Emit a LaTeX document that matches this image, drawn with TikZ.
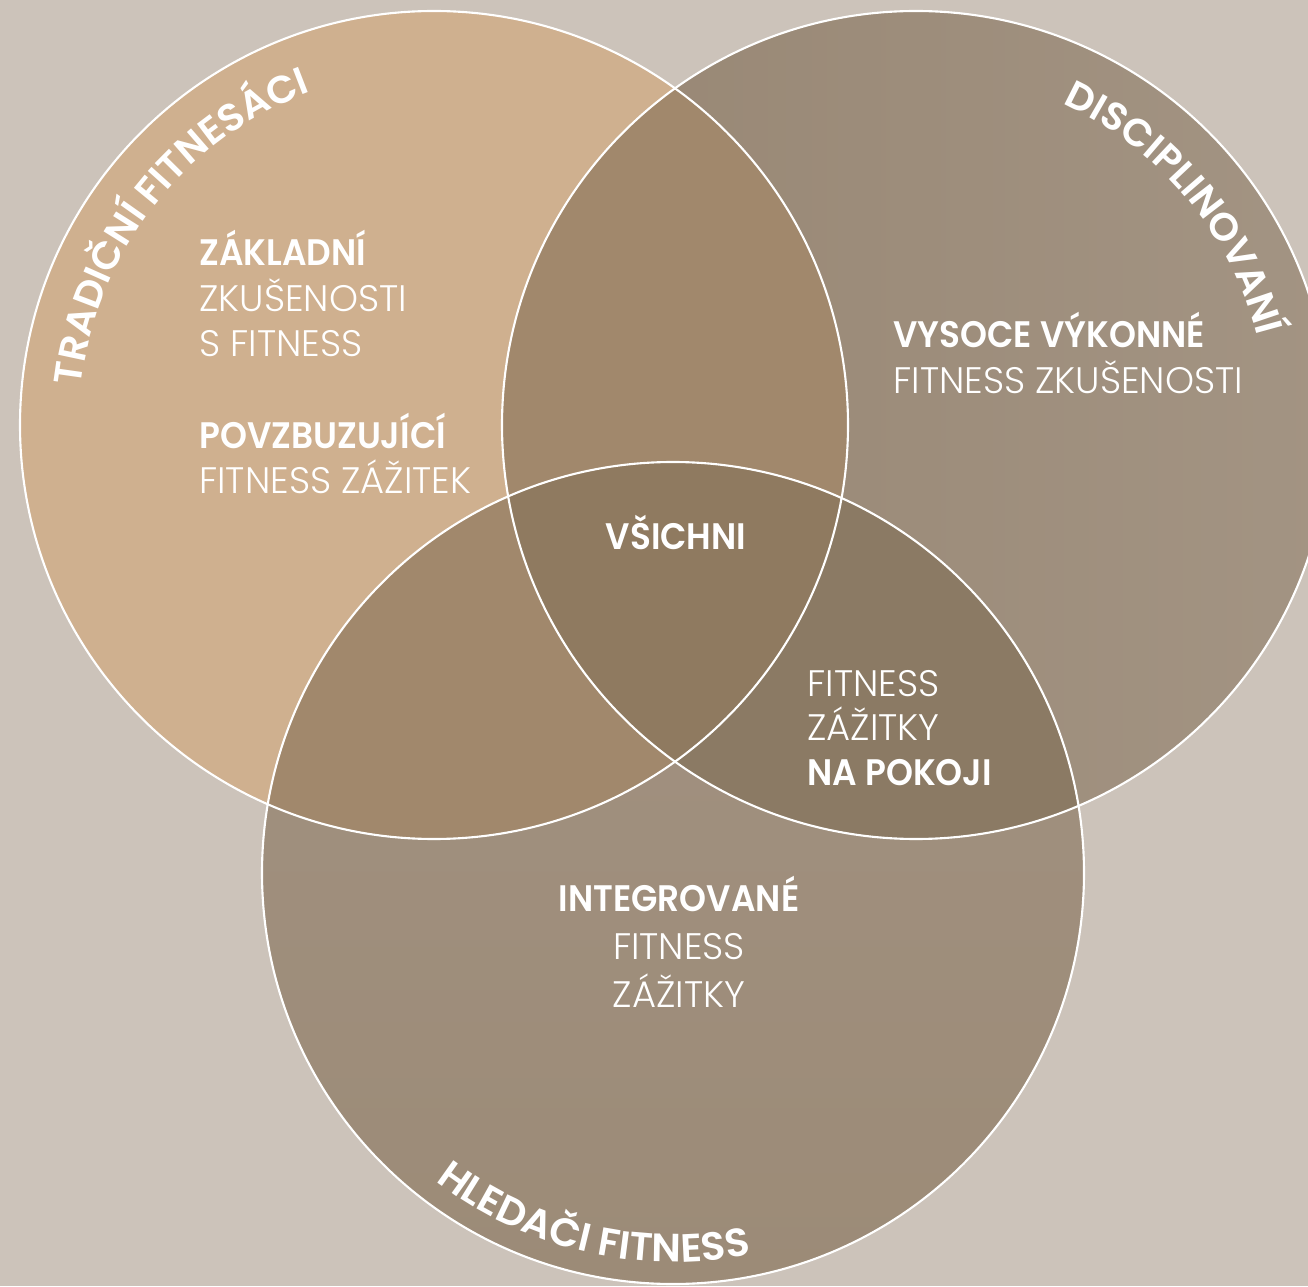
\documentclass[tikz,border=0pt]{standalone}
\usepackage{fontspec}
\setmainfont{Poppins}[UprightFont=* Light, BoldFont=* SemiBold, BoldFeatures={FakeStretch=0.93}]
\newfontfamily\curvef{Poppins SemiBold}[FakeStretch=1.02]
\usetikzlibrary{decorations.text}
\definecolor{bgc}{HTML}{CCC3BA}
\definecolor{lc}{HTML}{CFB08F}
\definecolor{rcA}{HTML}{978673}
\definecolor{rcB}{HTML}{A39483}
\definecolor{bcA}{HTML}{A29282}
\definecolor{bcB}{HTML}{9C8B77}
\definecolor{lrc}{HTML}{A1886C}
\definecolor{lbc}{HTML}{A1886C}
\definecolor{rbc}{HTML}{8B7A64}
\definecolor{allc}{HTML}{8F7A60}
\tikzset{
  ring/.style={draw=white, line width=1.2pt},
  lab/.style={text=white, inner sep=0pt, font=\fontsize{21}{25}\selectfont},
  labb/.style={lab, font=\fontsize{21}{25}\selectfont\bfseries},
}
\begin{document}
\begin{tikzpicture}[x=0.02cm, y=0.02cm]
\useasboundingbox (0,0) rectangle (1308,1286);
\fill[bgc] (0,0) rectangle (1308,1286);
\coordinate (L) at (434,861);
\coordinate (R) at (916,861);
\coordinate (B) at (673,413);
\def\rL{414}\def\rR{414}\def\rB{411}
\begin{scope}
\clip (0,0) rectangle (1308,1286);
\fill[lc] (L) circle[radius=\rL];
\begin{scope}\clip (R) circle[radius=\rR];
  \shade[left color=rcA, right color=rcB] (500,440) rectangle (1330,1280); \end{scope}
\begin{scope}\clip (B) circle[radius=\rB];
  \shade[top color=bcA, bottom color=bcB] (260,0) rectangle (1090,830); \end{scope}
\begin{scope}\clip (L) circle[radius=\rL]; \fill[lrc] (R) circle[radius=\rR]; \end{scope}
\begin{scope}\clip (L) circle[radius=\rL]; \fill[lbc] (B) circle[radius=\rB]; \end{scope}
\begin{scope}\clip (R) circle[radius=\rR]; \fill[rbc] (B) circle[radius=\rB]; \end{scope}
\begin{scope}\clip (L) circle[radius=\rL]; \clip (R) circle[radius=\rR]; \fill[allc] (B) circle[radius=\rB]; \end{scope}
\draw[ring] (L) circle[radius=\rL];
\draw[ring] (R) circle[radius=\rR];
\draw[ring] (B) circle[radius=\rB];
\end{scope}
% curved titles
\path[decorate, decoration={text along path, text align=center, text color=white,
  text={|\fontsize{22}{26}\curvef|TRADIČNÍ FITNESÁCI}}]
  (L) ++(200:355) arc[start angle=200, end angle=84, radius=355];
\path[decorate, decoration={text along path, text align=center, text color=white,
  text={|\fontsize{22}{26}\curvef|DISCIPLINOVANÍ}}]
  (R) ++(95:353) arc[start angle=95, end angle=-15, radius=353];
\path[decorate, decoration={text along path, text align=center, text color=white,
  text={|\fontsize{22.5}{27}\curvef|HLEDAČI FITNESS}}]
  (B) ++(202:389) arc[start angle=202, end angle=312, radius=389];
% left block
\node[labb, anchor=base west] (t1) at (199,1020) {ZÁKLADNÍ};
\node[lab, anchor=base west] (t2) at (199,974) {ZKUŠENOSTI};
\node[lab, anchor=base west] (t3) at (199,929) {S FITNESS};
\node[labb, anchor=base west] (t4) at (199,837) {POVZBUZUJÍCÍ};
\node[lab, anchor=base west] (t5) at (199,792) {FITNESS ZÁŽITEK};
% right block
\node[labb, anchor=base west] (r1) at (893,938) {VYSOCE VÝKONNÉ};
\node[lab, anchor=base west] (r2) at (893,892) {FITNESS ZKUŠENOSTI};
% center
\node[labb, anchor=base] (c1) at (676,736) {VŠICHNI};
% right-bottom
\node[lab, anchor=base west] (p1) at (807,590) {FITNESS};
\node[lab, anchor=base west] (p2) at (807,546) {ZÁŽITKY};
\node[labb, anchor=base west] (p3) at (807,501) {NA POKOJI};
% bottom
\node[labb, anchor=base] (b1) at (679,375) {INTEGROVANÉ};
\node[lab, anchor=base] (b2) at (679,327) {FITNESS};
\node[lab, anchor=base] (b3) at (679,279) {ZÁŽITKY};
\end{tikzpicture}
\end{document}
